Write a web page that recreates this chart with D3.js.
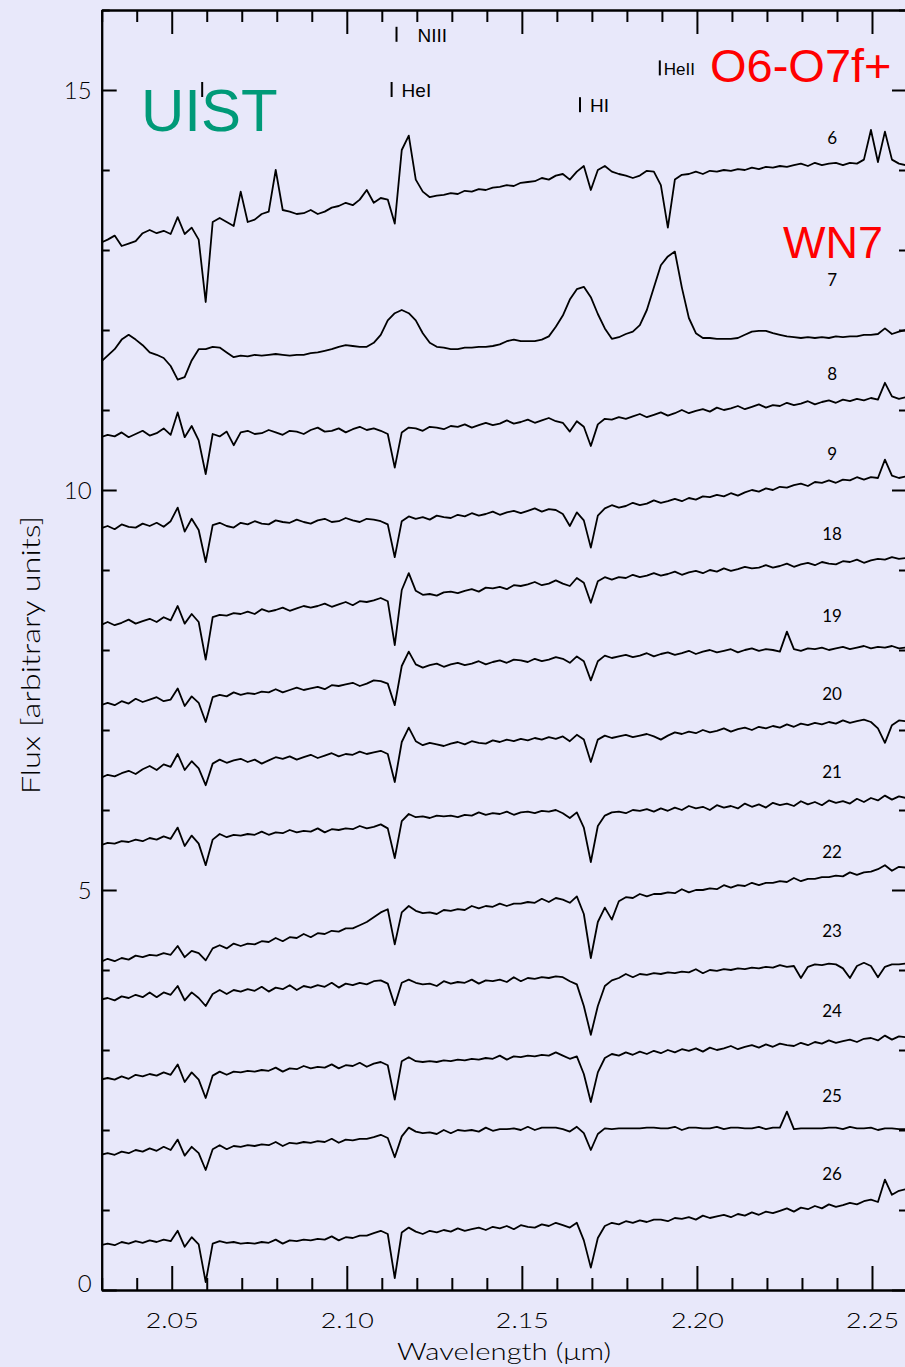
<!DOCTYPE html>
<html>
<head>
<meta charset="utf-8">
<script src="https://cdn.jsdelivr.net/npm/d3@7"></script>
<style>
  body { margin: 0; background: #e8e8fa; }
  svg { display: block; }
</style>
</head>
<body>
<svg id="chart" width="905" height="1367"></svg>
<script>
// wavelength grid of the spectra (micron): start + step * index
const waveStart = 2.0297;
const waveStep = 0.002;

const starIds = ['6', '7', '8', '9', '18', '19', '20', '21', '22', '23', '24', '25', '26'];
// flux level where each star number is written, and its wavelength
const labelFlux = [14.4, 12.62, 11.45, 10.45, 9.45, 8.43, 7.45, 6.48, 5.48, 4.49, 3.49, 2.43, 1.45];
const labelWave = 2.2386;

const flux6 = [13.09,13.13,13.18,13.05,13.08,13.11,13.21,13.25,13.21,13.24,
  13.20,13.41,13.20,13.28,13.13,12.35,13.35,13.40,13.35,13.30,
  13.73,13.35,13.38,13.45,13.48,14.00,13.50,13.48,13.45,13.46,
  13.50,13.45,13.48,13.53,13.55,13.59,13.56,13.63,13.75,13.59,
  13.65,13.63,13.33,14.25,14.43,13.88,13.73,13.66,13.68,13.69,
  13.71,13.70,13.74,13.73,13.76,13.75,13.78,13.79,13.81,13.80,
  13.84,13.85,13.86,13.90,13.88,13.93,13.95,13.88,13.98,14.05,
  13.75,14.00,14.05,13.98,13.95,13.93,13.90,13.93,13.99,13.98,
  13.81,13.28,13.88,13.94,13.95,13.98,13.95,13.99,13.98,14.00,
  13.99,14.01,14.00,14.03,14.01,14.04,14.03,14.05,14.04,14.06,
  14.08,14.05,14.09,14.06,14.08,14.09,14.06,14.09,14.08,14.13,
  14.50,14.10,14.48,14.13,14.08,14.06];

const flux7 = [11.60,11.68,11.76,11.88,11.94,11.88,11.81,11.72,11.69,11.65,
  11.55,11.38,11.41,11.62,11.76,11.76,11.79,11.78,11.72,11.66,
  11.68,11.67,11.69,11.68,11.69,11.70,11.69,11.68,11.69,11.69,
  11.71,11.72,11.74,11.76,11.79,11.81,11.80,11.79,11.79,11.84,
  11.94,12.12,12.21,12.25,12.21,12.12,11.96,11.84,11.79,11.78,
  11.76,11.76,11.78,11.78,11.79,11.79,11.80,11.82,11.86,11.88,
  11.86,11.86,11.86,11.88,11.92,12.04,12.18,12.38,12.51,12.54,
  12.41,12.20,12.02,11.89,11.91,11.95,11.98,12.06,12.25,12.53,
  12.81,12.92,12.98,12.53,12.15,11.96,11.90,11.90,11.89,11.89,
  11.89,11.90,11.94,11.98,11.99,11.99,11.96,11.94,11.92,11.91,
  11.90,11.91,11.90,11.91,11.90,11.92,11.91,11.92,11.92,11.94,
  11.94,11.95,12.02,11.95,11.98,12.00];

const flux8 = [10.66,10.69,10.67,10.72,10.66,10.70,10.74,10.68,10.71,10.77,
  10.69,10.97,10.66,10.80,10.62,10.20,10.70,10.67,10.73,10.56,
  10.72,10.74,10.70,10.71,10.75,10.72,10.69,10.74,10.73,10.70,
  10.75,10.78,10.73,10.74,10.77,10.72,10.76,10.79,10.75,10.77,
  10.74,10.70,10.28,10.72,10.78,10.77,10.74,10.79,10.78,10.76,
  10.80,10.79,10.82,10.78,10.81,10.84,10.81,10.83,10.87,10.83,
  10.85,10.88,10.84,10.87,10.90,10.86,10.84,10.73,10.86,10.79,
  10.55,10.82,10.89,10.88,10.91,10.89,10.92,10.95,10.91,10.94,
  10.97,10.93,10.96,11.00,10.96,10.99,11.01,10.98,11.03,11.00,
  11.02,11.05,11.01,11.04,11.07,11.03,11.06,11.05,11.09,11.06,
  11.08,11.11,11.07,11.10,11.12,11.09,11.13,11.11,11.14,11.12,
  11.15,11.13,11.34,11.17,11.14,11.16];

const flux9 = [9.52,9.55,9.51,9.57,9.54,9.53,9.58,9.55,9.59,9.54,
  9.61,9.78,9.48,9.64,9.50,9.10,9.56,9.59,9.55,9.53,
  9.59,9.57,9.61,9.58,9.57,9.62,9.60,9.59,9.63,9.60,
  9.58,9.62,9.64,9.60,9.61,9.65,9.62,9.60,9.64,9.63,
  9.61,9.57,9.16,9.61,9.67,9.64,9.66,9.63,9.68,9.66,
  9.65,9.69,9.67,9.71,9.68,9.70,9.73,9.69,9.72,9.74,
  9.71,9.74,9.77,9.73,9.76,9.75,9.70,9.55,9.72,9.62,
  9.28,9.68,9.77,9.81,9.78,9.80,9.84,9.81,9.83,9.87,
  9.84,9.86,9.89,9.86,9.90,9.88,9.92,9.91,9.94,9.92,
  9.96,9.93,9.97,10.00,9.98,10.02,10.00,10.04,10.03,10.06,
  10.08,10.05,10.10,10.09,10.12,10.09,10.13,10.12,10.16,10.13,
  10.16,10.15,10.38,10.18,10.15,10.17];

const flux18 = [8.31,8.35,8.31,8.34,8.38,8.33,8.36,8.39,8.35,8.41,
  8.37,8.55,8.33,8.45,8.35,7.88,8.41,8.44,8.43,8.46,
  8.45,8.48,8.45,8.51,8.48,8.50,8.53,8.49,8.52,8.55,
  8.53,8.55,8.58,8.54,8.57,8.60,8.56,8.61,8.60,8.62,
  8.65,8.61,8.06,8.75,8.96,8.74,8.69,8.70,8.68,8.72,
  8.73,8.71,8.74,8.76,8.73,8.78,8.77,8.79,8.76,8.81,
  8.80,8.82,8.85,8.81,8.83,8.87,8.83,8.80,8.90,8.84,
  8.59,8.86,8.91,8.88,8.91,8.90,8.94,8.91,8.93,8.96,
  8.93,8.95,8.98,8.94,8.97,8.99,8.96,9.00,8.98,9.02,
  8.99,9.01,9.04,9.02,9.03,9.06,9.03,9.05,9.08,9.04,
  9.07,9.09,9.06,9.10,9.08,9.07,9.11,9.10,9.13,9.09,
  9.12,9.14,9.13,9.16,9.14,9.15];

const flux19 = [7.31,7.34,7.31,7.36,7.33,7.39,7.35,7.38,7.41,7.36,
  7.38,7.52,7.30,7.42,7.34,7.10,7.41,7.44,7.42,7.47,
  7.44,7.46,7.45,7.48,7.47,7.51,7.47,7.50,7.53,7.50,
  7.52,7.54,7.51,7.56,7.55,7.57,7.59,7.55,7.58,7.62,
  7.61,7.58,7.31,7.80,7.98,7.82,7.78,7.81,7.83,7.79,
  7.82,7.84,7.81,7.83,7.86,7.82,7.85,7.87,7.84,7.88,
  7.87,7.85,7.89,7.86,7.88,7.91,7.89,7.84,7.92,7.86,
  7.62,7.86,7.93,7.90,7.92,7.94,7.91,7.93,7.96,7.92,
  7.95,7.97,7.94,7.96,7.99,7.95,7.98,8.00,7.97,7.99,
  8.01,7.97,8.00,8.02,7.99,8.01,8.00,7.98,8.23,8.01,
  7.99,8.02,8.01,8.03,8.00,8.02,8.04,8.01,8.03,8.05,
  8.02,8.04,8.03,8.05,8.02,8.03];

const flux20 = [6.40,6.44,6.42,6.46,6.49,6.45,6.51,6.55,6.50,6.57,
  6.54,6.70,6.50,6.61,6.52,6.31,6.58,6.63,6.59,6.62,
  6.64,6.60,6.63,6.58,6.62,6.66,6.64,6.67,6.63,6.66,
  6.69,6.65,6.68,6.71,6.67,6.70,6.69,6.73,6.70,6.72,
  6.74,6.70,6.35,6.85,7.03,6.86,6.81,6.84,6.82,6.80,
  6.83,6.85,6.82,6.86,6.84,6.83,6.87,6.85,6.88,6.86,
  6.89,6.87,6.90,6.88,6.91,6.89,6.92,6.86,6.94,6.88,
  6.60,6.88,6.93,6.90,6.92,6.94,6.91,6.93,6.95,6.92,
  6.88,6.93,6.97,6.95,6.98,6.96,7.00,6.97,6.99,7.02,
  6.98,7.01,7.03,7.00,7.04,7.02,7.05,7.03,7.07,7.04,
  7.08,7.06,7.09,7.07,7.10,7.08,7.12,7.09,7.11,7.13,
  7.10,7.02,6.84,7.06,7.12,7.11];

const flux21 = [5.56,5.59,5.58,5.61,5.60,5.63,5.61,5.65,5.63,5.67,
  5.64,5.78,5.55,5.68,5.58,5.31,5.63,5.70,5.66,5.69,
  5.68,5.70,5.69,5.73,5.69,5.72,5.71,5.75,5.72,5.74,
  5.73,5.77,5.72,5.76,5.75,5.77,5.76,5.80,5.77,5.79,
  5.82,5.77,5.40,5.86,5.95,5.91,5.92,5.90,5.93,5.92,
  5.93,5.91,5.94,5.93,5.97,5.94,5.96,5.95,5.98,5.94,
  5.97,5.98,5.96,5.99,5.98,6.00,5.96,5.90,5.97,5.78,
  5.35,5.80,5.93,5.97,5.98,5.96,6.00,5.99,6.01,5.98,
  6.02,5.99,6.03,6.00,6.05,6.02,6.04,6.00,6.06,6.03,
  6.05,6.02,6.08,6.04,6.07,6.03,6.09,6.06,6.08,6.05,
  6.11,6.07,6.10,6.06,6.12,6.09,6.11,6.08,6.14,6.10,
  6.15,6.12,6.18,6.13,6.17,6.15];

const flux22 = [4.10,4.14,4.11,4.15,4.13,4.18,4.16,4.19,4.18,4.21,
  4.19,4.30,4.16,4.24,4.21,4.12,4.27,4.31,4.27,4.33,
  4.30,4.33,4.32,4.36,4.35,4.40,4.36,4.41,4.40,4.45,
  4.41,4.46,4.45,4.49,4.48,4.52,4.52,4.56,4.60,4.66,
  4.72,4.76,4.32,4.72,4.80,4.74,4.71,4.72,4.70,4.75,
  4.74,4.76,4.75,4.80,4.77,4.80,4.79,4.83,4.80,4.83,
  4.83,4.85,4.84,4.89,4.85,4.90,4.88,4.84,4.92,4.70,
  4.15,4.60,4.78,4.63,4.86,4.91,4.90,4.95,4.92,4.95,
  4.95,4.97,4.96,5.01,4.97,5.00,5.00,5.02,5.01,5.06,
  5.03,5.06,5.05,5.09,5.06,5.09,5.09,5.11,5.10,5.15,
  5.11,5.14,5.14,5.16,5.16,5.18,5.17,5.22,5.19,5.22,
  5.23,5.26,5.31,5.24,5.29,5.28];

const flux23 = [3.63,3.65,3.62,3.67,3.65,3.69,3.66,3.72,3.66,3.72,
  3.69,3.80,3.62,3.72,3.65,3.55,3.70,3.75,3.70,3.75,
  3.73,3.76,3.74,3.79,3.73,3.78,3.76,3.81,3.75,3.80,
  3.78,3.81,3.79,3.84,3.78,3.83,3.81,3.84,3.82,3.86,
  3.87,3.83,3.56,3.84,3.88,3.84,3.82,3.83,3.80,3.86,
  3.83,3.85,3.84,3.88,3.83,3.87,3.86,3.88,3.85,3.91,
  3.86,3.90,3.89,3.91,3.90,3.92,3.91,3.86,3.82,3.55,
  3.19,3.55,3.80,3.87,3.90,3.95,3.91,3.95,3.94,3.96,
  3.95,3.97,3.96,3.98,3.97,4.01,3.96,4.00,3.99,4.01,
  4.00,4.02,4.01,4.03,4.02,4.04,4.03,4.06,4.04,4.05,
  3.90,4.04,4.07,4.06,4.08,4.07,4.02,3.90,4.05,4.09,
  4.05,3.91,4.04,4.07,4.07,4.08];

const flux24 = [2.63,2.65,2.63,2.67,2.64,2.69,2.67,2.70,2.68,2.72,
  2.69,2.82,2.60,2.72,2.63,2.40,2.68,2.73,2.69,2.73,
  2.72,2.74,2.73,2.75,2.74,2.78,2.73,2.77,2.76,2.80,
  2.77,2.79,2.78,2.82,2.77,2.81,2.80,2.84,2.79,2.83,
  2.85,2.81,2.38,2.86,2.91,2.86,2.85,2.86,2.85,2.87,
  2.86,2.88,2.87,2.89,2.88,2.90,2.89,2.93,2.88,2.92,
  2.91,2.93,2.92,2.94,2.93,2.97,2.93,2.89,2.92,2.70,
  2.35,2.72,2.90,2.95,2.93,2.97,2.94,2.98,2.95,2.99,
  2.96,3.00,2.97,3.01,2.99,3.02,2.98,3.03,3.00,3.02,
  3.05,3.01,3.04,3.06,3.03,3.07,3.04,3.08,3.06,3.05,
  3.09,3.06,3.10,3.08,3.12,3.09,3.11,3.13,3.10,3.14,
  3.15,3.12,3.18,3.13,3.17,3.16];

const flux25 = [1.69,1.71,1.69,1.73,1.71,1.75,1.73,1.77,1.74,1.79,
  1.75,1.88,1.68,1.79,1.71,1.50,1.76,1.81,1.76,1.80,
  1.79,1.81,1.80,1.82,1.81,1.85,1.80,1.84,1.83,1.85,
  1.84,1.86,1.85,1.89,1.84,1.88,1.87,1.89,1.89,1.91,
  1.94,1.90,1.66,1.92,2.03,1.98,1.96,1.97,1.95,2.00,
  1.96,2.00,1.99,2.00,1.98,2.03,1.99,2.01,2.01,2.02,
  2.00,2.04,2.00,2.03,2.03,2.03,2.01,1.98,2.04,1.96,
  1.75,1.95,2.02,2.01,2.02,2.02,2.02,2.02,2.03,2.03,
  2.02,2.02,2.04,2.00,2.03,2.03,2.02,2.02,2.04,2.01,
  2.03,2.03,2.02,2.02,2.04,2.01,2.03,2.03,2.23,2.01,
  2.02,2.02,2.02,2.02,2.03,2.03,2.01,2.04,2.02,2.02,
  2.03,2.00,2.02,2.02,2.01,2.01];

const flux26 = [0.56,0.58,0.56,0.60,0.58,0.61,0.59,0.62,0.60,0.63,
  0.61,0.74,0.54,0.66,0.57,0.10,0.58,0.61,0.59,0.60,
  0.58,0.59,0.58,0.60,0.59,0.63,0.58,0.62,0.61,0.63,
  0.62,0.64,0.63,0.67,0.62,0.66,0.65,0.68,0.68,0.71,
  0.74,0.70,0.15,0.72,0.78,0.73,0.70,0.74,0.72,0.75,
  0.73,0.77,0.74,0.76,0.78,0.75,0.79,0.77,0.80,0.76,
  0.81,0.79,0.78,0.82,0.80,0.84,0.81,0.78,0.84,0.62,
  0.28,0.65,0.80,0.84,0.82,0.86,0.84,0.87,0.85,0.88,
  0.88,0.86,0.90,0.89,0.91,0.88,0.93,0.90,0.92,0.94,
  0.91,0.95,0.93,0.97,0.94,0.98,0.96,0.99,1.02,0.98,
  1.03,1.01,1.05,1.02,1.07,1.04,1.06,1.09,1.07,1.11,
  1.13,1.10,1.38,1.19,1.24,1.26];

const spectra = [flux6, flux7, flux8, flux9, flux18, flux19, flux20,
  flux21, flux22, flux23, flux24, flux25, flux26];

// line identifications: wavelength of the tick mark, its name and flux level
const lineNames = ['NIII', 'HeI', 'HI', 'HeII', ''];
const lineWaves = [2.1142, 2.1128, 2.1666, 2.1894, 2.0587];
const lineFlux = [15.69, 15.0, 14.81, 15.27, 15.0];

const xTicks = [2.05, 2.10, 2.15, 2.20, 2.25];
const yTicks = [0, 5, 10, 15];

const svg = d3.select('#chart');
const width = 905;
const height = 1367;

svg.append('rect')
  .attr('width', width)
  .attr('height', height)
  .attr('fill', '#e8e8fa');

const x = d3.scaleLinear().domain([2.03, 2.26]).range([101.7, 907]);
const y = d3.scaleLinear().domain([0, 16]).range([1290, 10]);

const axisFont = 'Lato, "DejaVu Sans", sans-serif';

svg.append('clipPath')
  .attr('id', 'plot-clip')
  .append('rect')
    .attr('x', x(2.03))
    .attr('y', y(16))
    .attr('width', x(2.26) - x(2.03))
    .attr('height', y(0) - y(16));

// spectra
const line = d3.line()
  .x((d, i) => x(waveStart + waveStep * i))
  .y(d => y(d));

svg.append('g')
  .attr('clip-path', 'url(#plot-clip)')
  .selectAll('path')
  .data(spectra)
  .enter().append('path')
    .attr('d', line)
    .attr('fill', 'none')
    .attr('stroke', '#000')
    .attr('stroke-width', 1.8)
    .attr('stroke-linejoin', 'round');

// axes: major and minor ticks on all four sides, pointing inwards
function styleAxis(g) {
  g.selectAll('.domain').attr('stroke', '#000').attr('stroke-width', 2);
  g.selectAll('.tick line').attr('stroke', '#000').attr('stroke-width', 2);
  g.selectAll('.tick text')
    .attr('fill', '#000')
    .style('font-family', axisFont)
    .style('font-weight', 300);
}

const xMinor = x.ticks(23).filter(t => !xTicks.some(m => Math.abs(m - t) < 1e-6));
const yMinor = d3.range(0, 17).filter(t => t % 5 !== 0);

svg.append('g')
  .attr('transform', `translate(0,${y(0)})`)
  .call(d3.axisBottom(x).tickValues(xMinor).tickSize(-12).tickSizeOuter(0).tickFormat(''))
  .call(styleAxis);
svg.append('g')
  .attr('transform', `translate(0,${y(0)})`)
  .call(d3.axisBottom(x).tickValues(xTicks).tickSize(-24).tickSizeOuter(0)
    .tickPadding(23).tickFormat(d3.format('.2f')))
  .call(styleAxis)
  .call(g => g.selectAll('.tick text')
    .style('font-size', '21px')
    .attr('transform', 'scale(1.28,1)'));

svg.append('g')
  .attr('transform', `translate(0,${y(16)})`)
  .call(d3.axisTop(x).tickValues(xMinor).tickSize(-12).tickSizeOuter(0).tickFormat(''))
  .call(styleAxis);
svg.append('g')
  .attr('transform', `translate(0,${y(16)})`)
  .call(d3.axisTop(x).tickValues(xTicks).tickSize(-24).tickSizeOuter(0).tickFormat(''))
  .call(styleAxis);

svg.append('g')
  .attr('transform', `translate(${x(2.03)},0)`)
  .call(d3.axisLeft(y).tickValues(yMinor).tickSize(-8).tickSizeOuter(0).tickFormat(''))
  .call(styleAxis);
svg.append('g')
  .attr('transform', `translate(${x(2.03)},0)`)
  .call(d3.axisLeft(y).tickValues(yTicks).tickSize(-15).tickSizeOuter(0)
    .tickPadding(10).tickFormat(d3.format('d')))
  .call(styleAxis)
  .call(g => g.selectAll('.tick text')
    .style('font-size', '24px')
    .attr('dy', d => d === 0 ? '0.05em' : '0.35em'));

svg.append('g')
  .attr('transform', `translate(${x(2.26)},0)`)
  .call(d3.axisRight(y).tickValues(yMinor).tickSize(-8).tickSizeOuter(0).tickFormat(''))
  .call(styleAxis);
svg.append('g')
  .attr('transform', `translate(${x(2.26)},0)`)
  .call(d3.axisRight(y).tickValues(yTicks).tickSize(-15).tickSizeOuter(0).tickFormat(''))
  .call(styleAxis);

// axis titles (the original face is a wide geometric sans, so stretch a little)
svg.append('text')
  .attr('transform', 'translate(504,1360) scale(1.22,1)')
  .attr('text-anchor', 'middle')
  .style('font-family', axisFont)
  .style('font-weight', 300)
  .style('font-size', '24px')
  .text('Wavelength (\u03bcm)');

svg.append('text')
  .attr('transform', 'translate(40,655) rotate(-90) scale(1.3,1)')
  .attr('text-anchor', 'middle')
  .style('font-family', axisFont)
  .style('font-weight', 300)
  .style('font-size', '25px')
  .text('Flux [arbitrary units]');

// star numbers
svg.append('g')
  .selectAll('text')
  .data(starIds)
  .enter().append('text')
    .attr('x', x(labelWave))
    .attr('y', (d, i) => y(labelFlux[i]))
    .attr('dy', '0.35em')
    .attr('text-anchor', 'middle')
    .style('font-family', axisFont)
    .style('font-size', '17px')
    .text(d => d);

// line identifications
const ids = svg.append('g');
ids.selectAll('line')
  .data(lineWaves)
  .enter().append('line')
    .attr('x1', d => x(d))
    .attr('x2', d => x(d))
    .attr('y1', (d, i) => y(lineFlux[i]) - 8)
    .attr('y2', (d, i) => y(lineFlux[i]) + 7)
    .attr('stroke', '#000')
    .attr('stroke-width', 2);
ids.selectAll('text')
  .data(lineNames)
  .enter().append('text')
    .attr('x', (d, i) => x(lineWaves[i]) + (d === 'NIII' ? 21 : d === 'HeII' ? 4 : 10))
    .attr('y', (d, i) => y(lineFlux[i]) + 7)
    .style('font-family', '"Liberation Sans", Arial, sans-serif')
    .style('font-size', d => d === 'HeII' ? '17px' : '19px')
    .text(d => d);

// instrument and spectral types
svg.append('text')
  .attr('x', 141)
  .attr('y', 131)
  .attr('fill', '#009a78')
  .style('font-family', '"Liberation Sans", Arial, sans-serif')
  .style('font-size', '60px')
  .text('UIST');

svg.append('text')
  .attr('x', 710)
  .attr('y', 82)
  .attr('fill', '#ff0000')
  .style('font-family', '"Liberation Sans", Arial, sans-serif')
  .style('font-size', '47px')
  .text('O6-O7f+');

svg.append('text')
  .attr('x', 783)
  .attr('y', 258)
  .attr('fill', '#ff0000')
  .style('font-family', '"Liberation Sans", Arial, sans-serif')
  .style('font-size', '45px')
  .text('WN7');
</script>
</body>
</html>
